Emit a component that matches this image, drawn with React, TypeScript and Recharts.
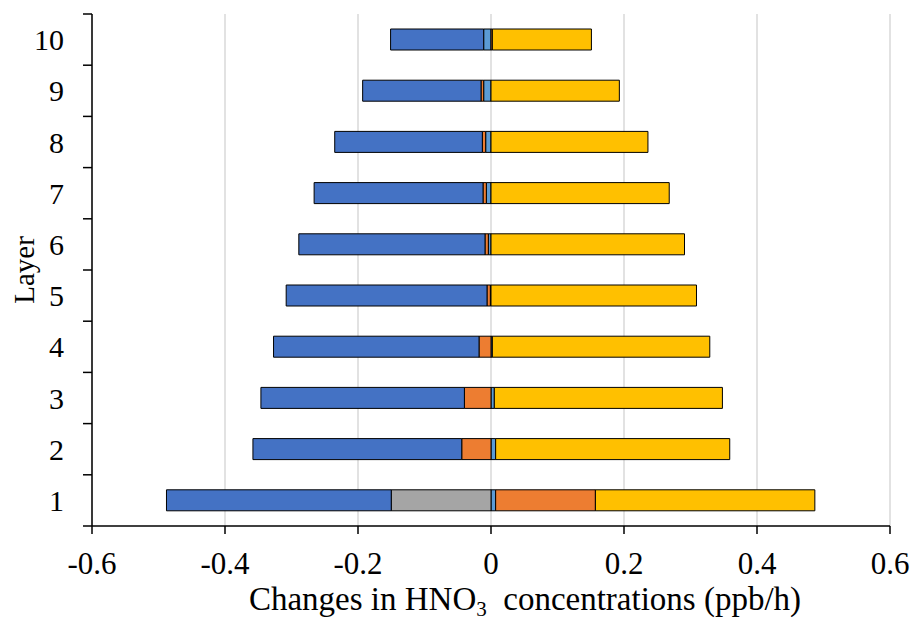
import { BarChart, Bar, XAxis, YAxis, CartesianGrid } from "recharts"

const FONT = '"Liberation Serif", "Times New Roman", serif'

// layers, bottom to top
const layers = ["1", "2", "3", "4", "5", "6", "7", "8", "9", "10"]

// contributions (ppb/h) per layer
const lightBlue = [0.007, 0.007, 0.005, 0.002, -0.001, -0.004, -0.007, -0.008, -0.011, -0.011]
const orange = [0.15, -0.044, -0.04, -0.018, -0.005, -0.005, -0.005, -0.005, -0.004, 0.002]
const gray = [-0.15, 0, 0, 0, 0, 0, 0, 0, 0, 0]
const blue = [-0.338, -0.314, -0.306, -0.309, -0.302, -0.28, -0.254, -0.222, -0.178, -0.14]
const yellow = [0.33, 0.352, 0.343, 0.327, 0.309, 0.291, 0.268, 0.236, 0.193, 0.149]

const xTicks = [-0.6, -0.4, -0.2, 0, 0.2, 0.4, 0.6]

const data = layers.map((layer, i) => ({
    layer,
    lightBlue: lightBlue[i],
    orange: orange[i],
    gray: gray[i],
    blue: blue[i],
    yellow: yellow[i],
}))

const TICK_MARGIN = 19
const TICK_SIZE = 9

function LayerTick(props: any) {
    const { x, y, payload } = props
    const half = payload.offset || 25.6
    return (
        <g>
            <text x={x} y={y} dy="0.35em" textAnchor="end" fontSize={30} fill="#000" fontFamily={FONT}>
                {payload.value}
            </text>
            <line x1={x + TICK_MARGIN} x2={x + TICK_MARGIN + TICK_SIZE} y1={y + half} y2={y + half} stroke="#000" strokeWidth={1.5} />
            {payload.value === "10" && (
                <line x1={x + TICK_MARGIN} x2={x + TICK_MARGIN + TICK_SIZE} y1={y - half} y2={y - half} stroke="#000" strokeWidth={1.5} />
            )}
        </g>
    )
}

function XTitle(props: any) {
    const { viewBox } = props
    // the title sits a little right of the plot centre
    const cx = viewBox.x + viewBox.width / 2 + 34
    return (
        <text x={cx} y={viewBox.y + 84} textAnchor="middle" fontSize={33} fill="#000" fontFamily={FONT}>
            Changes in HNO
            <tspan fontSize={21} dy={6}>3</tspan>
            <tspan dy={-6} xmlSpace="preserve">{"  concentrations (ppb/h)"}</tspan>
        </text>
    )
}

function YTitle(props: any) {
    const { viewBox } = props
    const cy = viewBox.y + viewBox.height / 2
    return (
        <text x={24} y={cy} textAnchor="middle" dominantBaseline="central" fontSize={29} fill="#000" fontFamily={FONT} transform={`rotate(-90 24 ${cy})`}>
            Layer
        </text>
    )
}

export default function App() {
    const barProps = { stackId: "a", stroke: "#000", strokeWidth: 1, barSize: 21, isAnimationActive: false }
    return (
        <div style={{ position: "absolute", left: 0, top: 0, width: 915, height: 623, background: "#fff", fontFamily: FONT }}>
            <BarChart
                width={915}
                height={623}
                data={data}
                layout="vertical"
                stackOffset="sign"
                margin={{ top: 14, right: 25, left: 0, bottom: 0 }}
            >
                <CartesianGrid horizontal={false} stroke="#d9d9d9" strokeWidth={1.5} />
                <XAxis
                    type="number"
                    domain={[-0.6, 0.6]}
                    ticks={xTicks}
                    allowDataOverflow
                    height={97}
                    axisLine={{ stroke: "#000", strokeWidth: 1.5 }}
                    tickLine={{ stroke: "#000", strokeWidth: 1.5 }}
                    tickSize={8}
                    tickMargin={18}
                    tick={{ fill: "#000", fontSize: 31, fontFamily: FONT }}
                    tickFormatter={(v: number) => (v === 0 ? "0" : v.toFixed(1))}
                    label={<XTitle />}
                />
                <XAxis xAxisId="top" orientation="top" type="number" domain={[-0.6, 0.6]} height={0} tick={false} tickLine={false} axisLine={{ stroke: "#000", strokeWidth: 1.5 }} />
                <YAxis
                    type="category"
                    dataKey="layer"
                    reversed
                    width={92}
                    axisLine={{ stroke: "#000", strokeWidth: 1.5 }}
                    tickLine={false}
                    tickSize={TICK_SIZE}
                    tickMargin={TICK_MARGIN}
                    tick={<LayerTick />}
                    interval={0}
                    label={<YTitle />}
                />
                <YAxis yAxisId="right" orientation="right" type="category" dataKey="layer" reversed width={0} tick={false} tickLine={false} axisLine={{ stroke: "#000", strokeWidth: 1.5 }} />
                <Bar dataKey="lightBlue" fill="#5B9BD5" {...barProps} />
                <Bar dataKey="orange" fill="#ED7D31" {...barProps} />
                <Bar dataKey="gray" fill="#A5A5A5" {...barProps} />
                <Bar dataKey="blue" fill="#4472C4" {...barProps} />
                <Bar dataKey="yellow" fill="#FFC000" {...barProps} />
            </BarChart>
        </div>
    )
}
